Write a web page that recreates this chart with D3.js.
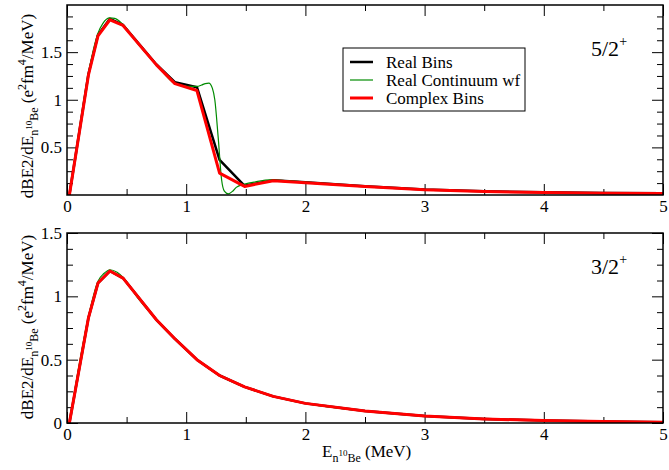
<!DOCTYPE html>
<html>
<head>
<meta charset="utf-8">
<script src="https://cdn.jsdelivr.net/npm/d3@7"></script>
<style>
body { margin: 0; background: #fff; }
</style>
</head>
<body>
<svg id="chart"></svg>
<script>
// Bin energies (MeV), shared by the bin calculations
const binE = [0.02, 0.18, 0.26, 0.36, 0.47, 0.75, 0.905, 1.09, 1.28, 1.49, 1.73, 2.0, 2.5, 3.0, 3.5, 4.0, 4.5, 5.0];

// 5/2+ panel
const realBins52 = [0, 1.27, 1.68, 1.85, 1.785, 1.37, 1.185, 1.132, 0.37, 0.097, 0.155, 0.133, 0.092, 0.058, 0.04, 0.028, 0.021, 0.018];
const complexBins52 = [0, 1.26, 1.67, 1.84, 1.78, 1.366, 1.17, 1.097, 0.23, 0.09, 0.15, 0.128, 0.088, 0.055, 0.037, 0.026, 0.019, 0.016];
const contE52 = [0.02, 0.1, 0.18, 0.26, 0.3, 0.36, 0.4, 0.47, 0.6, 0.75, 0.905, 1.0, 1.09, 1.13, 1.16, 1.19, 1.22, 1.24, 1.268, 1.297, 1.32, 1.352, 1.39, 1.42, 1.49, 1.59, 1.7, 1.8, 2.0, 2.5, 3.0, 3.5, 4.0, 4.5, 5.0];
const contWf52 = [0, 0.66, 1.28, 1.70, 1.80, 1.86, 1.855, 1.79, 1.58, 1.37, 1.17, 1.14, 1.14, 1.155, 1.17, 1.175, 1.12, 1.0, 0.61, 0.16, 0.04, 0.012, 0.04, 0.08, 0.115, 0.14, 0.158, 0.155, 0.135, 0.09, 0.056, 0.038, 0.027, 0.02, 0.017];

// 3/2+ panel
const realBins32 = [0, 0.83, 1.105, 1.2, 1.144, 0.815, 0.665, 0.5, 0.375, 0.285, 0.21, 0.155, 0.094, 0.055, 0.032, 0.019, 0.011, 0.006];
const complexBins32 = [0, 0.83, 1.105, 1.2, 1.144, 0.815, 0.665, 0.5, 0.375, 0.285, 0.21, 0.155, 0.094, 0.055, 0.032, 0.019, 0.011, 0.006];
const contE32 = [0.02, 0.1, 0.18, 0.26, 0.31, 0.36, 0.42, 0.47, 0.6, 0.75, 0.905, 1.09, 1.28, 1.49, 1.73, 2.0, 2.5, 3.0, 3.5, 4.0, 4.5, 5.0];
const contWf32 = [0, 0.45, 0.84, 1.12, 1.18, 1.21, 1.19, 1.15, 0.98, 0.815, 0.665, 0.5, 0.375, 0.285, 0.21, 0.155, 0.094, 0.055, 0.032, 0.019, 0.011, 0.006];

// Ticks
const xTicks = [0, 1, 2, 3, 4, 5];
const yTicks52 = [0.5, 1, 1.5];
const yTicks32 = [0, 0.5, 1, 1.5];

const seriesNames = ["Real Bins", "Real Continuum wf", "Complex Bins"];
const seriesColors = ["#000000", "#008b00", "#ff0000"];
const seriesWidths = [2.5, 1.2, 3];

const serif = "'Liberation Serif', 'Times New Roman', Times, serif";
const width = 669, height = 470;
const left = 67, right = 663;

const svg = d3.select("#chart")
    .attr("width", width)
    .attr("height", height)
    .style("font-family", serif);

const x = d3.scaleLinear().domain([0, 5]).range([left, right]);
const xMinor = d3.range(0.5, 5, 1);

function drawPanel(cfg) {
    const y = d3.scaleLinear().domain(cfg.yDomain).range([cfg.bottom, cfg.top]);
    const yMinor = d3.range(0, cfg.yDomain[1] + 1e-9, 0.125).filter(v => Math.abs(v * 2 - Math.round(v * 2)) > 1e-6);
    const g = svg.append("g");

    const clipId = "clip" + cfg.top;
    g.append("clipPath").attr("id", clipId)
        .append("rect")
        .attr("x", left).attr("y", cfg.top)
        .attr("width", right - left).attr("height", cfg.bottom - cfg.top);

    // ticks, pointing inward on all four sides
    const axes = [
        [d3.axisBottom(x).tickValues(xTicks).tickSize(-11).tickPadding(5).tickFormat(d3.format("d")), `translate(0,${cfg.bottom})`],
        [d3.axisBottom(x).tickValues(xMinor).tickSize(-6).tickFormat(""), `translate(0,${cfg.bottom})`],
        [d3.axisTop(x).tickValues(xTicks).tickSize(-11).tickFormat(""), `translate(0,${cfg.top})`],
        [d3.axisTop(x).tickValues(xMinor).tickSize(-6).tickFormat(""), `translate(0,${cfg.top})`],
        [d3.axisLeft(y).tickValues(cfg.yTicks).tickSize(-11).tickPadding(5).tickFormat(d => d), `translate(${left},0)`],
        [d3.axisLeft(y).tickValues(yMinor).tickSize(-6).tickFormat(""), `translate(${left},0)`],
        [d3.axisRight(y).tickValues(cfg.yTicks).tickSize(-11).tickFormat(""), `translate(${right},0)`],
        [d3.axisRight(y).tickValues(yMinor).tickSize(-6).tickFormat(""), `translate(${right},0)`]
    ];
    axes.forEach(([axis, tr]) => {
        const a = g.append("g").attr("transform", tr).call(axis)
            .attr("font-family", serif).attr("font-size", 17);
        a.select(".domain").remove();
        a.selectAll("line").attr("stroke", "#000").attr("stroke-width", 1);
        a.selectAll("text").attr("fill", "#000");
    });

    // series
    const line = d3.line().x(d => x(d[0])).y(d => y(d[1]));
    const smooth = d3.line().x(d => x(d[0])).y(d => y(d[1])).curve(d3.curveMonotoneX);
    const sets = [
        [d3.zip(binE, cfg.real), line],
        [d3.zip(cfg.contE, cfg.cont), smooth],
        [d3.zip(binE, cfg.complex), line]
    ];
    sets.forEach(([pts, gen], i) => {
        g.append("path")
            .attr("clip-path", `url(#${clipId})`)
            .attr("d", gen(pts))
            .attr("fill", "none")
            .attr("stroke", seriesColors[i])
            .attr("stroke-width", seriesWidths[i])
            .attr("stroke-linejoin", "round");
    });

    // frame
    g.append("rect")
        .attr("x", left).attr("y", cfg.top)
        .attr("width", right - left).attr("height", cfg.bottom - cfg.top)
        .attr("fill", "none").attr("stroke", "#000").attr("stroke-width", 1.5);

    // state label
    const st = g.append("text")
        .attr("x", 591).attr("y", cfg.top + cfg.stateDy)
        .style("font-size", "22px");
    st.append("tspan").text(cfg.state);
    st.append("tspan").attr("dy", -10).style("font-size", "14px").text("+");

    // y-axis title
    const yt = g.append("text")
        .attr("transform", `translate(33,${cfg.titleY}) rotate(-90)`)
        .attr("text-anchor", "middle")
        .style("font-size", "17px");
    yt.append("tspan").text("dBE2/dE");
    yt.append("tspan").attr("dy", 5).style("font-size", "12px").text("n");
    yt.append("tspan").attr("dy", -6).style("font-size", "9px").text("10");
    yt.append("tspan").attr("dy", 6).style("font-size", "12px").text("Be");
    yt.append("tspan").attr("dy", -5).text(" (e");
    yt.append("tspan").attr("dy", -7).style("font-size", "12px").text("2");
    yt.append("tspan").attr("dy", 7).text("fm");
    yt.append("tspan").attr("dy", -7).style("font-size", "12px").text("4");
    yt.append("tspan").attr("dy", 7).text("/MeV)");
    return y;
}

drawPanel({
    top: 5, bottom: 195, yDomain: [0, 1.995], yTicks: yTicks52,
    real: realBins52, complex: complexBins52, contE: contE52, cont: contWf52,
    state: "5/2", stateDy: 51, titleY: 106
});

drawPanel({
    top: 233, bottom: 423, yDomain: [0, 1.5], yTicks: yTicks32,
    real: realBins32, complex: complexBins32, contE: contE32, cont: contWf32,
    state: "3/2", stateDy: 41, titleY: 327
});

// legend
const lg = svg.append("g");
lg.append("rect")
    .attr("x", 343).attr("y", 48).attr("width", 182).attr("height", 63)
    .attr("fill", "#fff").attr("stroke", "#000").attr("stroke-width", 1);
seriesNames.forEach((name, i) => {
    const yy = 62 + i * 18;
    lg.append("line")
        .attr("x1", 350).attr("x2", 373).attr("y1", yy).attr("y2", yy)
        .attr("stroke", seriesColors[i]).attr("stroke-width", seriesWidths[i]);
    lg.append("text")
        .attr("x", 386).attr("y", yy + 5.5)
        .style("font-size", "17px")
        .text(name);
});

// x-axis title
const xt = svg.append("text")
    .attr("x", 322).attr("y", 457)
    .style("font-size", "17px");
xt.append("tspan").text("E");
xt.append("tspan").attr("dy", 5).style("font-size", "12px").text("n");
xt.append("tspan").attr("dy", -6).style("font-size", "9px").text("10");
xt.append("tspan").attr("dy", 6).style("font-size", "12px").text("Be");
xt.append("tspan").attr("dy", -5).text(" (MeV)");
</script>
</body>
</html>
